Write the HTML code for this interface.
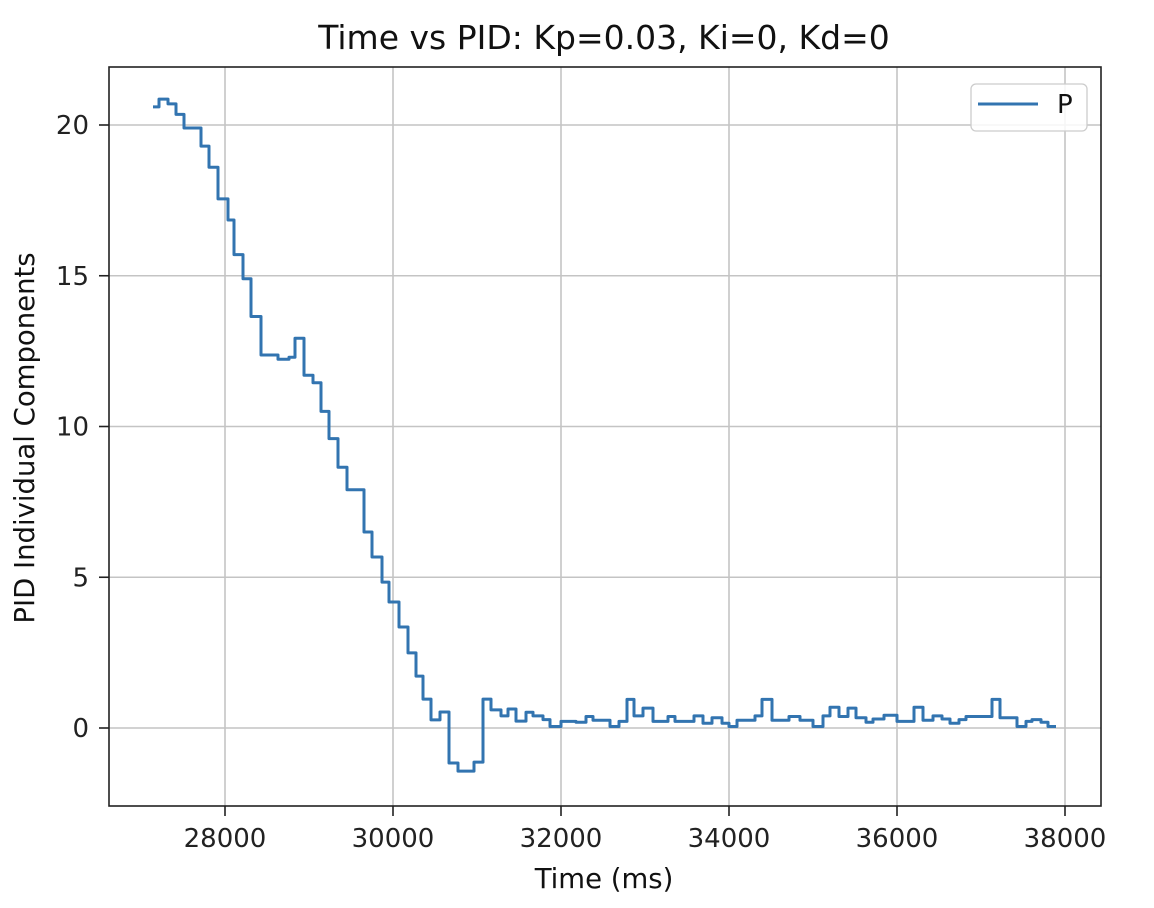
<!DOCTYPE html>
<html><head><meta charset="utf-8"><style>
html,body{margin:0;padding:0;background:#fff;}
svg{display:block;font-family:"DejaVu Sans","Liberation Sans",sans-serif;}
</style></head><body>
<svg id="chart" width="1154" height="908" viewBox="0 0 1154 908">
<rect x="0" y="0" width="1154" height="908" fill="#fff"/>
<g id="grid"></g>
<g id="series"></g>
<rect x="109" y="67" width="992" height="739" fill="none" stroke="#222" stroke-width="1.6"/>
<g id="xticks"></g>
<g id="yticks"></g>
<text x="604" y="49" font-size="33" text-anchor="middle" fill="#111">Time vs PID: Kp=0.03, Ki=0, Kd=0</text>
<text x="604" y="888" font-size="27.5" text-anchor="middle" fill="#111">Time (ms)</text>
<text transform="translate(34,438) rotate(-90)" font-size="27.5" text-anchor="middle" fill="#111">PID Individual Components</text>
<g>
<rect x="971" y="84" width="116" height="47" rx="5" fill="#fff" fill-opacity="0.85" stroke="#ccc" stroke-width="1.3"/>
<line x1="978" y1="104" x2="1038" y2="104" stroke="#3274b0" stroke-width="3"/>
<text x="1057" y="113" font-size="26" fill="#111">P</text>
</g>
</svg>
<script>
const times = [27143,27214,27321,27417,27512,27714,27810,27917,28036,28107,28214,28310,28429,28631,28762,28833,28940,29048,29143,29238,29345,29452,29655,29750,29869,29952,30071,30179,30274,30357,30452,30560,30667,30774,30964,31071,31167,31286,31369,31464,31583,31667,31786,31869,32000,32179,32298,32381,32583,32691,32786,32869,32976,33095,33274,33357,33583,33691,33798,33917,34000,34095,34310,34393,34512,34714,34845,35000,35119,35202,35310,35417,35512,35631,35714,35845,36000,36202,36310,36429,36536,36631,36738,36822,37131,37226,37429,37536,37607,37714,37798];
const pValues = [20.6,20.86,20.7,20.35,19.9,19.3,18.6,17.55,16.85,15.7,14.9,13.65,12.37,12.23,12.3,12.93,11.7,11.45,10.5,9.6,8.65,7.9,6.5,5.67,4.84,4.18,3.35,2.49,1.72,0.96,0.27,0.53,-1.16,-1.43,-1.13,0.96,0.6,0.4,0.63,0.23,0.52,0.4,0.28,0.05,0.22,0.19,0.38,0.26,0.05,0.22,0.95,0.4,0.66,0.22,0.38,0.22,0.4,0.16,0.34,0.16,0.05,0.26,0.4,0.95,0.26,0.38,0.26,0.05,0.4,0.69,0.38,0.66,0.34,0.19,0.3,0.42,0.22,0.69,0.26,0.4,0.3,0.16,0.28,0.38,0.95,0.34,0.05,0.22,0.28,0.19,0.05];
const endTime = 37893;
const xTicks = [28000,30000,32000,34000,36000,38000];
const yTicks = [0,5,10,15,20];

const NS='http://www.w3.org/2000/svg';
function xs(t){return 225 + (t-28000)*0.084;}
function ys(v){return 728 - v*30.15;}
function mk(tag,parent,attrs){const e=document.createElementNS(NS,tag);for(const k in attrs)e.setAttribute(k,attrs[k]);parent.appendChild(e);return e;}
const grid=document.getElementById('grid'), xg=document.getElementById('xticks'), yg=document.getElementById('yticks'), sg=document.getElementById('series');
xTicks.forEach(t=>{
  const x=xs(t);
  const gl=mk('line',grid,{x1:x,y1:67,x2:x,y2:806,stroke:'#c4c4c4','stroke-width':1.6});
  
  
  const tk=mk('line',xg,{x1:x,y1:806,x2:x,y2:816,stroke:'#222','stroke-width':1.6});
  
  
  const tx=mk('text',xg,{x:x,y:847,'font-size':26,'text-anchor':'middle',fill:'#222'});
  tx.textContent=String(t);
  
  
});
yTicks.forEach(v=>{
  const y=ys(v);
  const gl=mk('line',grid,{x1:109,y1:y,x2:1101,y2:y,stroke:'#c4c4c4','stroke-width':1.6});
  
  
  const tk=mk('line',yg,{x1:99,y1:y,x2:109,y2:y,stroke:'#222','stroke-width':1.6});
  
  
  const tx=mk('text',yg,{x:89,y:y+9,'font-size':26,'text-anchor':'end',fill:'#222'});
  tx.textContent=String(v);
  
  
});
let d='M'+xs(times[0]).toFixed(1)+','+ys(pValues[0]).toFixed(1);
for(let i=0;i<times.length;i++){
  const next = i+1<times.length?times[i+1]:endTime;
  d+=' H'+xs(next).toFixed(1);
  if(i+1<times.length) d+=' V'+ys(pValues[i+1]).toFixed(1);
}
const p=mk('path',sg,{d:d,fill:'none',stroke:'#3274b0','stroke-width':3,'stroke-linejoin':'round'});


</script>
</body></html>
